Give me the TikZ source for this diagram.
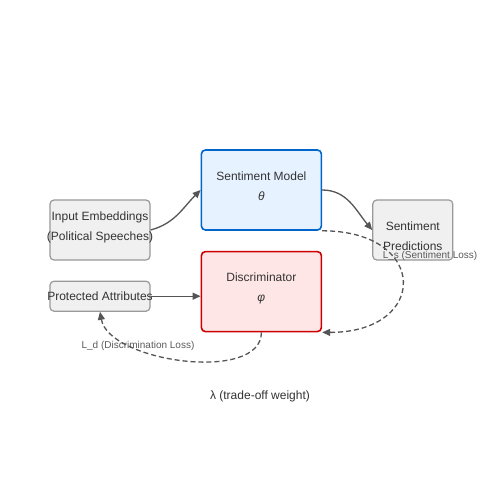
\documentclass[tikz,border=0pt]{standalone}
\usepackage{fontspec}
\setmainfont{Liberation Sans}
\usetikzlibrary{arrows.meta,positioning}
\definecolor{txt}{HTML}{333333}
\definecolor{arrowgray}{HTML}{555555}
\definecolor{notegray}{HTML}{5A5A5A}
\definecolor{boxfill}{HTML}{F0F0F0}
\definecolor{boxdraw}{HTML}{999999}
\definecolor{model}{HTML}{0066CC}
\definecolor{modelfill}{HTML}{E6F2FF}
\definecolor{disc}{HTML}{CC0000}
\definecolor{discfill}{HTML}{FFE6E6}
% text that may stick out of its box
\newcommand{\cl}[1]{\makebox[0pt]{#1}}
% struts to move box text up or down
\newcommand{\up}{\rule[-8pt]{0pt}{8pt}}
\newcommand{\down}{\rule{0pt}{21pt}}
\tikzset{
    %Define standard arrow tip
    >={Triangle[length=8pt,width=7pt]},
    %Define style for boxes
    block/.style={
           rectangle,
           rounded corners=4pt,
           draw=boxdraw, line width=1.2pt,
           fill=boxfill,
           minimum width=100pt,
           minimum height=60pt,
           inner sep=0pt,
           align=center,
           font=\fontsize{12}{20}\selectfont,
           text=txt},
    modelbox/.style={
           block,
           draw=model, line width=1.6pt,
           fill=modelfill,
           minimum width=120pt,
           minimum height=80pt},
    discbox/.style={
           modelbox,
           draw=disc,
           fill=discfill},
    % Define arrow style
    pil/.style={
           ->,
           draw=arrowgray,
           line width=1.3pt},
    loss/.style={
           pil,
           dash pattern=on 5pt off 3pt},
    note/.style={
           font=\fontsize{10}{12}\selectfont,
           text=notegray}
}
\begin{document}
\begin{tikzpicture}[node distance=20pt]
\useasboundingbox[fill=white] (0,0) rectangle (500pt,-500pt);
\node[block] (in) at (100pt,-230pt) {\cl{Input Embeddings}\\\cl{(Political Speeches)}\up};
\node[block, minimum height=30pt, below=of in] (pa) {\cl{Protected Attributes}};
\node[modelbox, right=50pt of in, yshift=40pt] (sm) {Sentiment Model\\{\itshape θ}\up};
\node[discbox, below=of sm] (dis) {Discriminator\\{\itshape φ}\up};
\node[block, minimum width=80pt, right=50pt of sm, yshift=-40pt] (pred) {\down Sentiment\\Predictions};
\path
	(in.east) edge[pil, out=15, in=225] (sm.west)
	(sm.east) edge[pil, out=0, in=130] (pred.west)
	(pa.east) edge[pil] (pa.east -| dis.west)
	(sm.south east) edge[loss, out=0, in=0, looseness=2.7] (dis.south east)
	(dis.south) edge[loss, out=-90, in=-80, looseness=0.8] (pa.south);
\node[note] (ls) at (430pt,-256pt) {L\_s (Sentiment Loss)};
\node[note] (ld) at (138pt,-346pt) {L\_d (Discrimination Loss)};
\node[font=\fontsize{12}{14}\selectfont, text=txt] (lam) at (260pt,-396pt) {λ (trade-off weight)};
\end{tikzpicture}
\end{document}
